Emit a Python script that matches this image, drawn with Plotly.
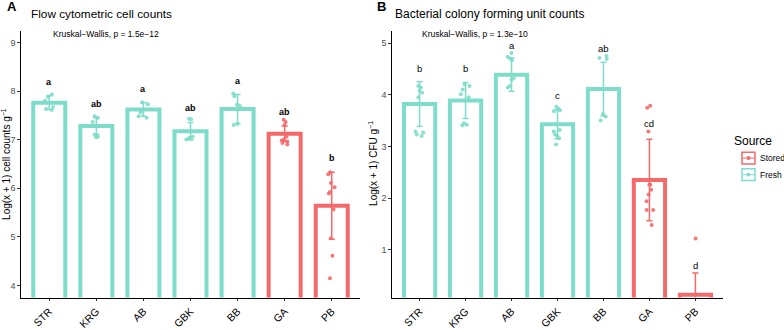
import plotly.graph_objects as go

sites = ["STR", "KRG", "AB", "GBK", "BB", "GA", "PB"]
source = ["Fresh", "Fresh", "Fresh", "Fresh", "Fresh", "Stored", "Stored"]

# Panel A: flow cytometric cell counts (log(x+1) cells g^-1)
fc_mean = [7.76, 7.28, 7.62, 7.17, 7.63, 7.12, 5.64]
fc_sd = [0.14, 0.17, 0.14, 0.18, 0.30, 0.16, 0.69]
fc_points = [
    [7.93, 7.88, 7.80, 7.67, 7.63, 7.61],
    [7.48, 7.45, 7.36, 7.10, 7.06, 7.05],
    [7.77, 7.73, 7.56, 7.48, 7.45],
    [7.43, 7.42, 7.06, 7.03, 7.00, 7.04],
    [7.95, 7.89, 7.72, 7.69, 7.63, 7.32, 7.30],
    [7.41, 7.36, 7.30, 7.06, 7.00, 6.96, 6.93, 6.90, 6.98],
    [6.33, 6.29, 6.11, 6.02, 5.92, 5.89, 5.56, 4.97, 4.61, 4.15],
]
fc_letters = ["a", "ab", "a", "ab", "a", "ab", "b"]
fc_letter_y = [8.18, 7.73, 8.05, 7.65, 8.20, 7.57, 6.63]

# Panel B: bacterial CFU counts (log(x+1) CFU g^-1)
cfu_mean = [3.82, 3.89, 4.39, 3.43, 4.11, 2.35, 0.13]
cfu_sd = [0.43, 0.35, 0.32, 0.28, 0.52, 0.79, 0.42]
cfu_points = [
    [4.17, 4.14, 4.08, 4.04, 3.95, 3.29, 3.27, 3.23, 3.20],
    [4.20, 4.17, 4.10, 4.01, 3.95, 3.45, 3.42, 3.41],
    [4.81, 4.73, 4.67, 4.32, 4.29, 4.17, 4.14, 4.70],
    [3.77, 3.73, 3.68, 3.70, 3.32, 3.29, 3.23, 3.20, 3.16, 3.04],
    [4.75, 4.71, 4.69, 3.63, 3.58, 3.50],
    [3.79, 3.75, 3.29, 2.26, 2.26, 2.16, 2.07, 1.94, 1.77, 1.77, 1.48],
    [1.22, 0.0, 0.0, 0.0, 0.0, 0.0, 0.0, 0.0, 0.0, 0.0],
]
cfu_letters = ["b", "b", "a", "c", "ab", "cd", "d"]
cfu_letter_y = [4.50, 4.51, 4.95, 3.98, 4.90, 3.45, 0.70]

colors = {"Stored": "#F46A6B", "Fresh": "#7EDDCA"}
FONT = "Liberation Sans, Arial, sans-serif"

fig = go.Figure()


def add_panel(means, sds, points, xa, ya):
    for src in ["Stored", "Fresh"]:
        idx = [i for i, s in enumerate(source) if s == src]
        fig.add_trace(go.Bar(
            x=[sites[i] for i in idx], y=[means[i] for i in idx],
            width=0.68,
            marker=dict(color="white", line=dict(color=colors[src], width=4)),
            error_y=dict(type="data", array=[sds[i] for i in idx],
                         color=colors[src], thickness=1.5, width=3),
            xaxis=xa, yaxis=ya, showlegend=False, hoverinfo="skip"))
        xs, ys = [], []
        for i in idx:
            xs += [sites[i]] * len(points[i])
            ys += points[i]
        fig.add_trace(go.Box(
            x=xs, y=ys, boxpoints="all", jitter=0.35, pointpos=0, width=0.6,
            fillcolor="rgba(0,0,0,0)", line=dict(width=0, color="rgba(0,0,0,0)"),
            marker=dict(color=colors[src], size=4, opacity=0.9),
            xaxis=xa, yaxis=ya, showlegend=False, hoverinfo="skip"))


add_panel(fc_mean, fc_sd, fc_points, "x", "y")
add_panel(cfu_mean, cfu_sd, cfu_points, "x2", "y2")

W, H = 784, 330


def px(xp):
    return xp / W


def py(yp):
    return (H - yp) / H


axis_common = dict(
    showline=True, linecolor="black", linewidth=1.3, ticks="outside",
    ticklen=2.5, tickcolor="#333333", tickwidth=1, showgrid=False, zeroline=False,
    tickfont=dict(family=FONT, size=9, color="#4D4D4D"),
)
xaxis_common = dict(axis_common, type="category", categoryorder="array",
                    categoryarray=sites, range=[-0.6, 6.6], tickangle=-45,
                    tickfont=dict(family=FONT, size=10.5, color="black"))

fig.update_layout(
    width=W, height=H, margin=dict(l=0, r=0, t=0, b=0),
    paper_bgcolor="white", plot_bgcolor="white",
    barmode="overlay", boxmode="overlay",
    font=dict(family=FONT, color="black"),
    showlegend=False,
    xaxis=dict(xaxis_common, domain=[px(21), px(360)], anchor="y"),
    yaxis=dict(axis_common, domain=[py(305), py(32)], range=[3.75, 9.23],
               tickvals=[4, 5, 6, 7, 8, 9], anchor="x"),
    xaxis2=dict(xaxis_common, domain=[px(392), px(723)], anchor="y2"),
    yaxis2=dict(axis_common, domain=[py(305), py(32)], range=[0.075, 5.23],
                tickvals=[1, 2, 3, 4, 5], anchor="x2"),
)

ann = []
for i, s in enumerate(sites):
    ann.append(dict(x=s, y=fc_letter_y[i], xref="x", yref="y", text="<b>%s</b>" % fc_letters[i],
                    showarrow=False, font=dict(family=FONT, size=9, color="black"),
                    yanchor="middle"))
    ann.append(dict(x=s, y=cfu_letter_y[i], xref="x2", yref="y2", text=cfu_letters[i],
                    showarrow=False, font=dict(family=FONT, size=9.5, color="black"),
                    yanchor="middle"))

ann += [
    dict(x=px(5), y=py(7), xref="paper", yref="paper", text="<b>A</b>", showarrow=False,
         xanchor="left", yanchor="middle", font=dict(family=FONT, size=13, color="black")),
    dict(x=px(29), y=py(14), xref="paper", yref="paper", text="Flow cytometric cell counts",
         showarrow=False, xanchor="left", yanchor="middle",
         font=dict(family=FONT, size=11.8, color="black")),
    dict(x=px(375), y=py(7), xref="paper", yref="paper", text="<b>B</b>", showarrow=False,
         xanchor="left", yanchor="middle", font=dict(family=FONT, size=13, color="black")),
    dict(x=px(393), y=py(14), xref="paper", yref="paper",
         text="Bacterial colony forming unit counts", showarrow=False,
         xanchor="left", yanchor="middle", font=dict(family=FONT, size=12, color="black")),
    dict(x=px(51), y=py(35), xref="paper", yref="paper", text="Kruskal\u2212Wallis, p = 1.5e\u221212",
         showarrow=False, xanchor="left", yanchor="middle",
         font=dict(family=FONT, size=8.5, color="black")),
    dict(x=px(420), y=py(35), xref="paper", yref="paper", text="Kruskal\u2212Wallis, p = 1.3e\u221210",
         showarrow=False, xanchor="left", yanchor="middle",
         font=dict(family=FONT, size=8.5, color="black")),
    dict(x=px(6), y=py(168), xref="paper", yref="paper",
         text="Log(x + 1) cell counts g<sup>\u22121</sup>", textangle=-90, showarrow=False,
         xanchor="center", yanchor="middle", font=dict(family=FONT, size=10, color="black")),
    dict(x=px(373), y=py(168), xref="paper", yref="paper",
         text="Log(x + 1) CFU g<sup>\u22121</sup>", textangle=-90, showarrow=False,
         xanchor="center", yanchor="middle", font=dict(family=FONT, size=10, color="black")),
    dict(x=px(774), y=py(145), xref="paper", yref="paper", text="Source", showarrow=False,
         xanchor="right", yanchor="middle", font=dict(family=FONT, size=12, color="black")),
]

shapes = []
for k, src in enumerate(["Stored", "Fresh"]):
    yc = 162 + k * 17
    shapes.append(dict(type="rect", xref="paper", yref="paper",
                       x0=px(742), x1=px(755), y0=py(yc + 6), y1=py(yc - 6),
                       line=dict(color=colors[src], width=1.5), fillcolor="white"))
    shapes.append(dict(type="line", xref="paper", yref="paper",
                       x0=px(742), x1=px(755), y0=py(yc), y1=py(yc),
                       line=dict(color=colors[src], width=1)))
    shapes.append(dict(type="circle", xref="paper", yref="paper",
                       x0=px(746.5), x1=px(750.5), y0=py(yc + 2), y1=py(yc - 2),
                       line=dict(color=colors[src], width=0), fillcolor=colors[src]))
    ann.append(dict(x=px(758), y=py(yc), xref="paper", yref="paper", text=src,
                    showarrow=False, xanchor="left", yanchor="middle",
                    font=dict(family=FONT, size=8.5, color="black")))

fig.update_layout(annotations=ann, shapes=shapes)
fig.write_html("out.html", config={"displayModeBar": False},
               post_script="document.body.style.margin='0';document.body.style.overflow='hidden';")
